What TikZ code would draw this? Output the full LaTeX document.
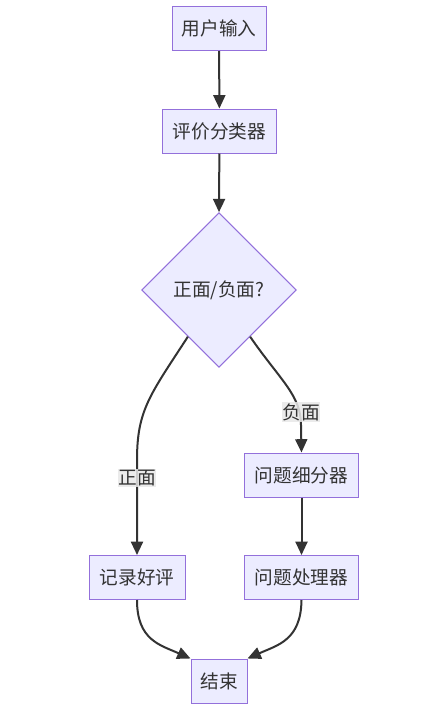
\documentclass[tikz,border=0pt]{standalone}
\usepackage{fontspec}
\setmainfont{Noto Sans CJK SC}
\usetikzlibrary{shapes.geometric,arrows.meta,calc}
\definecolor{boxfill}{HTML}{ECECFF}
\definecolor{boxline}{HTML}{9370DB}
\definecolor{edgecol}{HTML}{333333}
\definecolor{lblfill}{HTML}{E8E8E8}
\tikzset{
  procbox/.style={draw=boxline, fill=boxfill, line width=0.75pt, text=edgecol,
    font=\fontsize{14pt}{16pt}\selectfont, minimum height=33pt, inner sep=0pt},
  decide/.style={diamond, draw=boxline, fill=boxfill, line width=0.75pt, text=edgecol,
    font=\fontsize{14pt}{16pt}\selectfont, aspect=1, inner sep=0pt, minimum size=116pt},
  edgelbl/.style={fill=lblfill, fill opacity=0.85, text opacity=1, text=edgecol,
    font=\fontsize{14pt}{16pt}\selectfont, inner xsep=0.5pt, inner ysep=1pt},
  flow/.style={draw=edgecol, line width=1.5pt, -{Triangle[length=10pt,width=9pt]}}
}
\begin{document}
\begin{tikzpicture}[x=0.75pt,y=-0.75pt]
\useasboundingbox (0,0) rectangle (447,714);
\node[procbox, minimum width=70.5pt] (inp) at (219,28.5) {用户输入};
\node[procbox, minimum width=85pt] (cls) at (219.5,131) {评价分类器};
\node[decide] (dia) at (219,290) {正面/负面?};
\node[procbox, minimum width=86pt] (sub) at (301.5,475) {问题细分器};
\node[procbox, minimum width=72pt] (good) at (137,577.5) {记录好评};
\node[procbox, minimum width=86pt] (proc) at (301.5,577.5) {问题处理器};
\node[procbox, minimum width=42pt] (fin) at (219,681) {结束};

\draw[flow] (inp) -- (cls);
\draw[flow] (cls) -- (dia.north);
\coordinate (dl) at ($(dia.west)!0.6!(dia.south)$);
\coordinate (dr) at ($(dia.east)!0.6!(dia.south)$);
\draw[flow] (dl) .. controls (150,395) and (137,410) .. (137,460) -- (good.north);
\draw[flow] (dr) .. controls (280,380) and (301,395) .. (301,425) -- (sub.north);
\node[edgelbl] (lpos) at (137,478) {正面};
\node[edgelbl] (lneg) at (301,412) {负面};
\draw[flow] (sub) -- (proc);
\draw[flow] (good.south) .. controls (137,640) and (160,645) .. (fin.north west);
\draw[flow] (proc.south) .. controls (301,640) and (278,645) .. (fin.north east);
\end{tikzpicture}
\end{document}
